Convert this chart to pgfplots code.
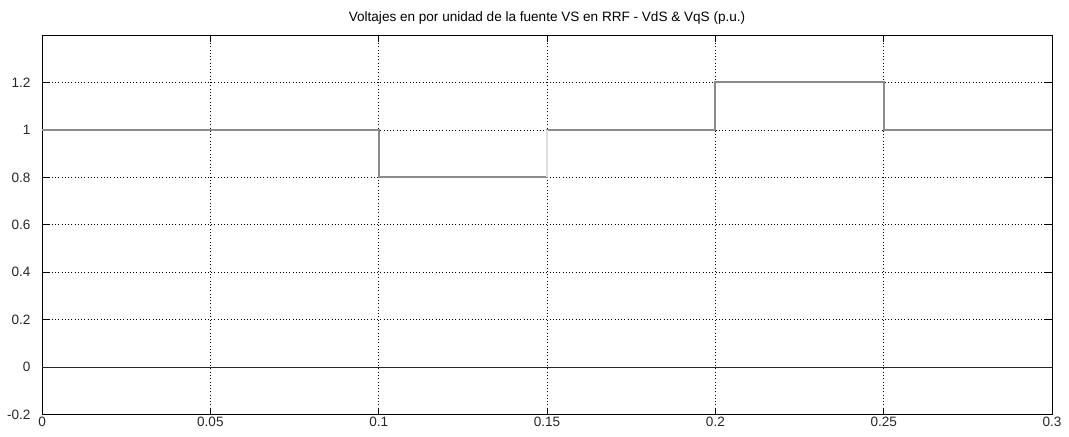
\documentclass[border=0pt]{standalone}
\usepackage{pgfplots}
\pgfplotsset{compat=1.18}
\usepackage{fontspec}
\setmainfont{Liberation Sans}

\begin{document}
\begin{tikzpicture}
\begin{axis}[
    name=ax,
    scale only axis,
    width=745pt, height=280pt,
    xmin=0, xmax=0.3, ymin=-0.2, ymax=1.4,
    xtick={0,0.05,...,0.3},
    ytick={-0.2,0,0.2,...,1.2},
    xticklabels={0,0.05,0.1,0.15,0.2,0.25,0.3},
    yticklabels={-0.2,0,0.2,0.4,0.6,0.8,1,1.2},
    tick align=inside, major tick length=5pt,
    tick style={black, line width=0.6pt},
    axis line style={black, line width=0.6pt},
    grid=major,
    major grid style={black, dotted, line width=0.5pt},
    ticklabel style={font=\fontsize{10}{11}\selectfont, text=black!85},
    /pgf/number format/assume math mode=true,
    xticklabel style={yshift=1.5pt},
    yticklabel style={xshift=-5pt},
    title={Voltajes en por unidad de la fuente VS en RRF - VdS \& VqS (p.u.)},
    title style={font=\fontsize{10}{11}\selectfont, yshift=-2pt},
]
% VdS
\addplot[black!45, line width=1.4pt, const plot] coordinates {
    (0,1) (0.1,0.8) (0.15,1) (0.2,1.2) (0.25,1) (0.3,1)};
% light edge at 0.15
\addplot[gray!25, line width=1pt] coordinates {(0.15,0.8) (0.15,1)};
% VqS
\addplot[black!85, line width=0.8pt] coordinates {(0,0) (0.3,0)};
\end{axis}
\pgfresetboundingbox
\useasboundingbox ([shift={(-31pt,-16pt)}]ax.south west) rectangle ([shift={(12.5pt,25.8pt)}]ax.north east);
\end{tikzpicture}
\end{document}
